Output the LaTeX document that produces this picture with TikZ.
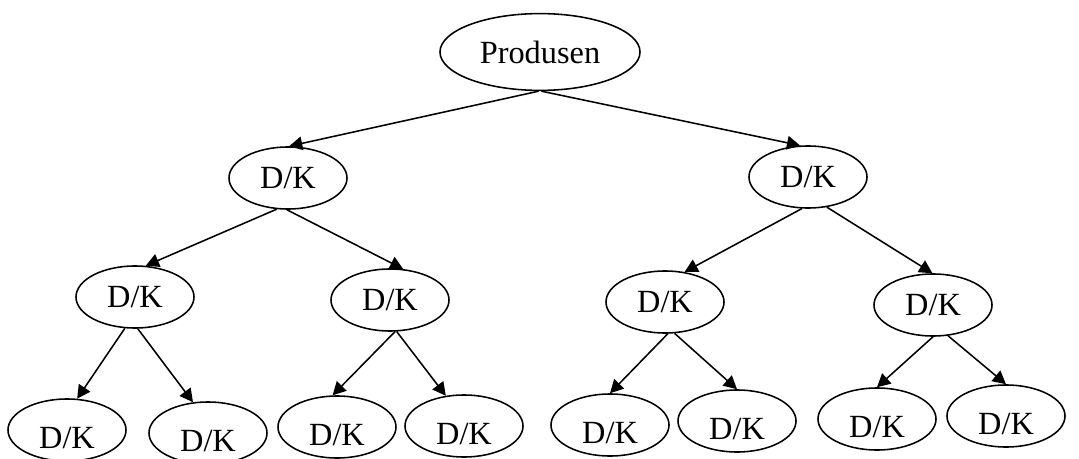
\documentclass[tikz,border=0pt]{standalone}
\usepackage{fontspec}
\setmainfont{Liberation Serif}
\usetikzlibrary{shapes.geometric,arrows.meta}
\begin{document}
\begin{tikzpicture}[x=0.025cm,y=-0.025cm,
		every node/.style={font=\fontsize{23}{27}\selectfont},
		dk/.style={draw,ellipse,line width=1.1pt,minimum width=2.95cm,minimum height=1.55cm,inner sep=0pt},
		leaf/.style={dk,text height=26pt,text depth=0pt},
		arr/.style={-{Triangle[length=0.33cm,width=0.34cm]},line width=1.1pt}
	]
	\useasboundingbox (0,0) rectangle (1079,459);

	\node[dk,minimum width=5cm,minimum height=1.92cm] (prod) at (540,52) {Produsen};

	\node[dk] (a) at (288,178) {D/K};
	\node[dk] (b) at (808,177) {D/K};

	\node[dk] (aa) at (135,297) {D/K};
	\node[dk] (ab) at (390,300) {D/K};
	\node[dk] (ba) at (665,302) {D/K};
	\node[dk] (bb) at (933,305) {D/K};

	\node[leaf] (aaa) at (67,430) {D/K};
	\node[leaf] (aab) at (208,433) {D/K};
	\node[leaf] (aba) at (337,427) {D/K};
	\node[leaf] (abb) at (464,426) {D/K};
	\node[leaf] (baa) at (610,425) {D/K};
	\node[leaf] (bab) at (737,421) {D/K};
	\node[leaf] (bba) at (877,419) {D/K};
	\node[leaf] (bbb) at (1006,416) {D/K};

	% level 1
	\draw[arr] (prod.268) -- (a.88);
	\draw[arr] (prod.272) -- (b.104);
	% level 2
	\draw[arr] (a.250) -- (aa.71);
	\draw[arr] (a.268) -- (ab.67);
	\draw[arr] (b.259) -- (ba.57);
	\draw[arr] (b.302) -- (bb.91);
	% level 3
	\draw[arr] (aa.252) -- (aaa.72);
	\draw[arr] (aa.275) -- (aab.116);
	\draw[arr] (ab.279) -- (aba.98);
	\draw[arr] (ab.282) -- (abb.121);
	\draw[arr] (ba.275) -- (baa.90);
	\draw[arr] (ba.287) -- (bab.90);
	\draw[arr] (bb.270) -- (bba.90);
	\draw[arr] (bb.296) -- (bbb.90);
\end{tikzpicture}
\end{document}
